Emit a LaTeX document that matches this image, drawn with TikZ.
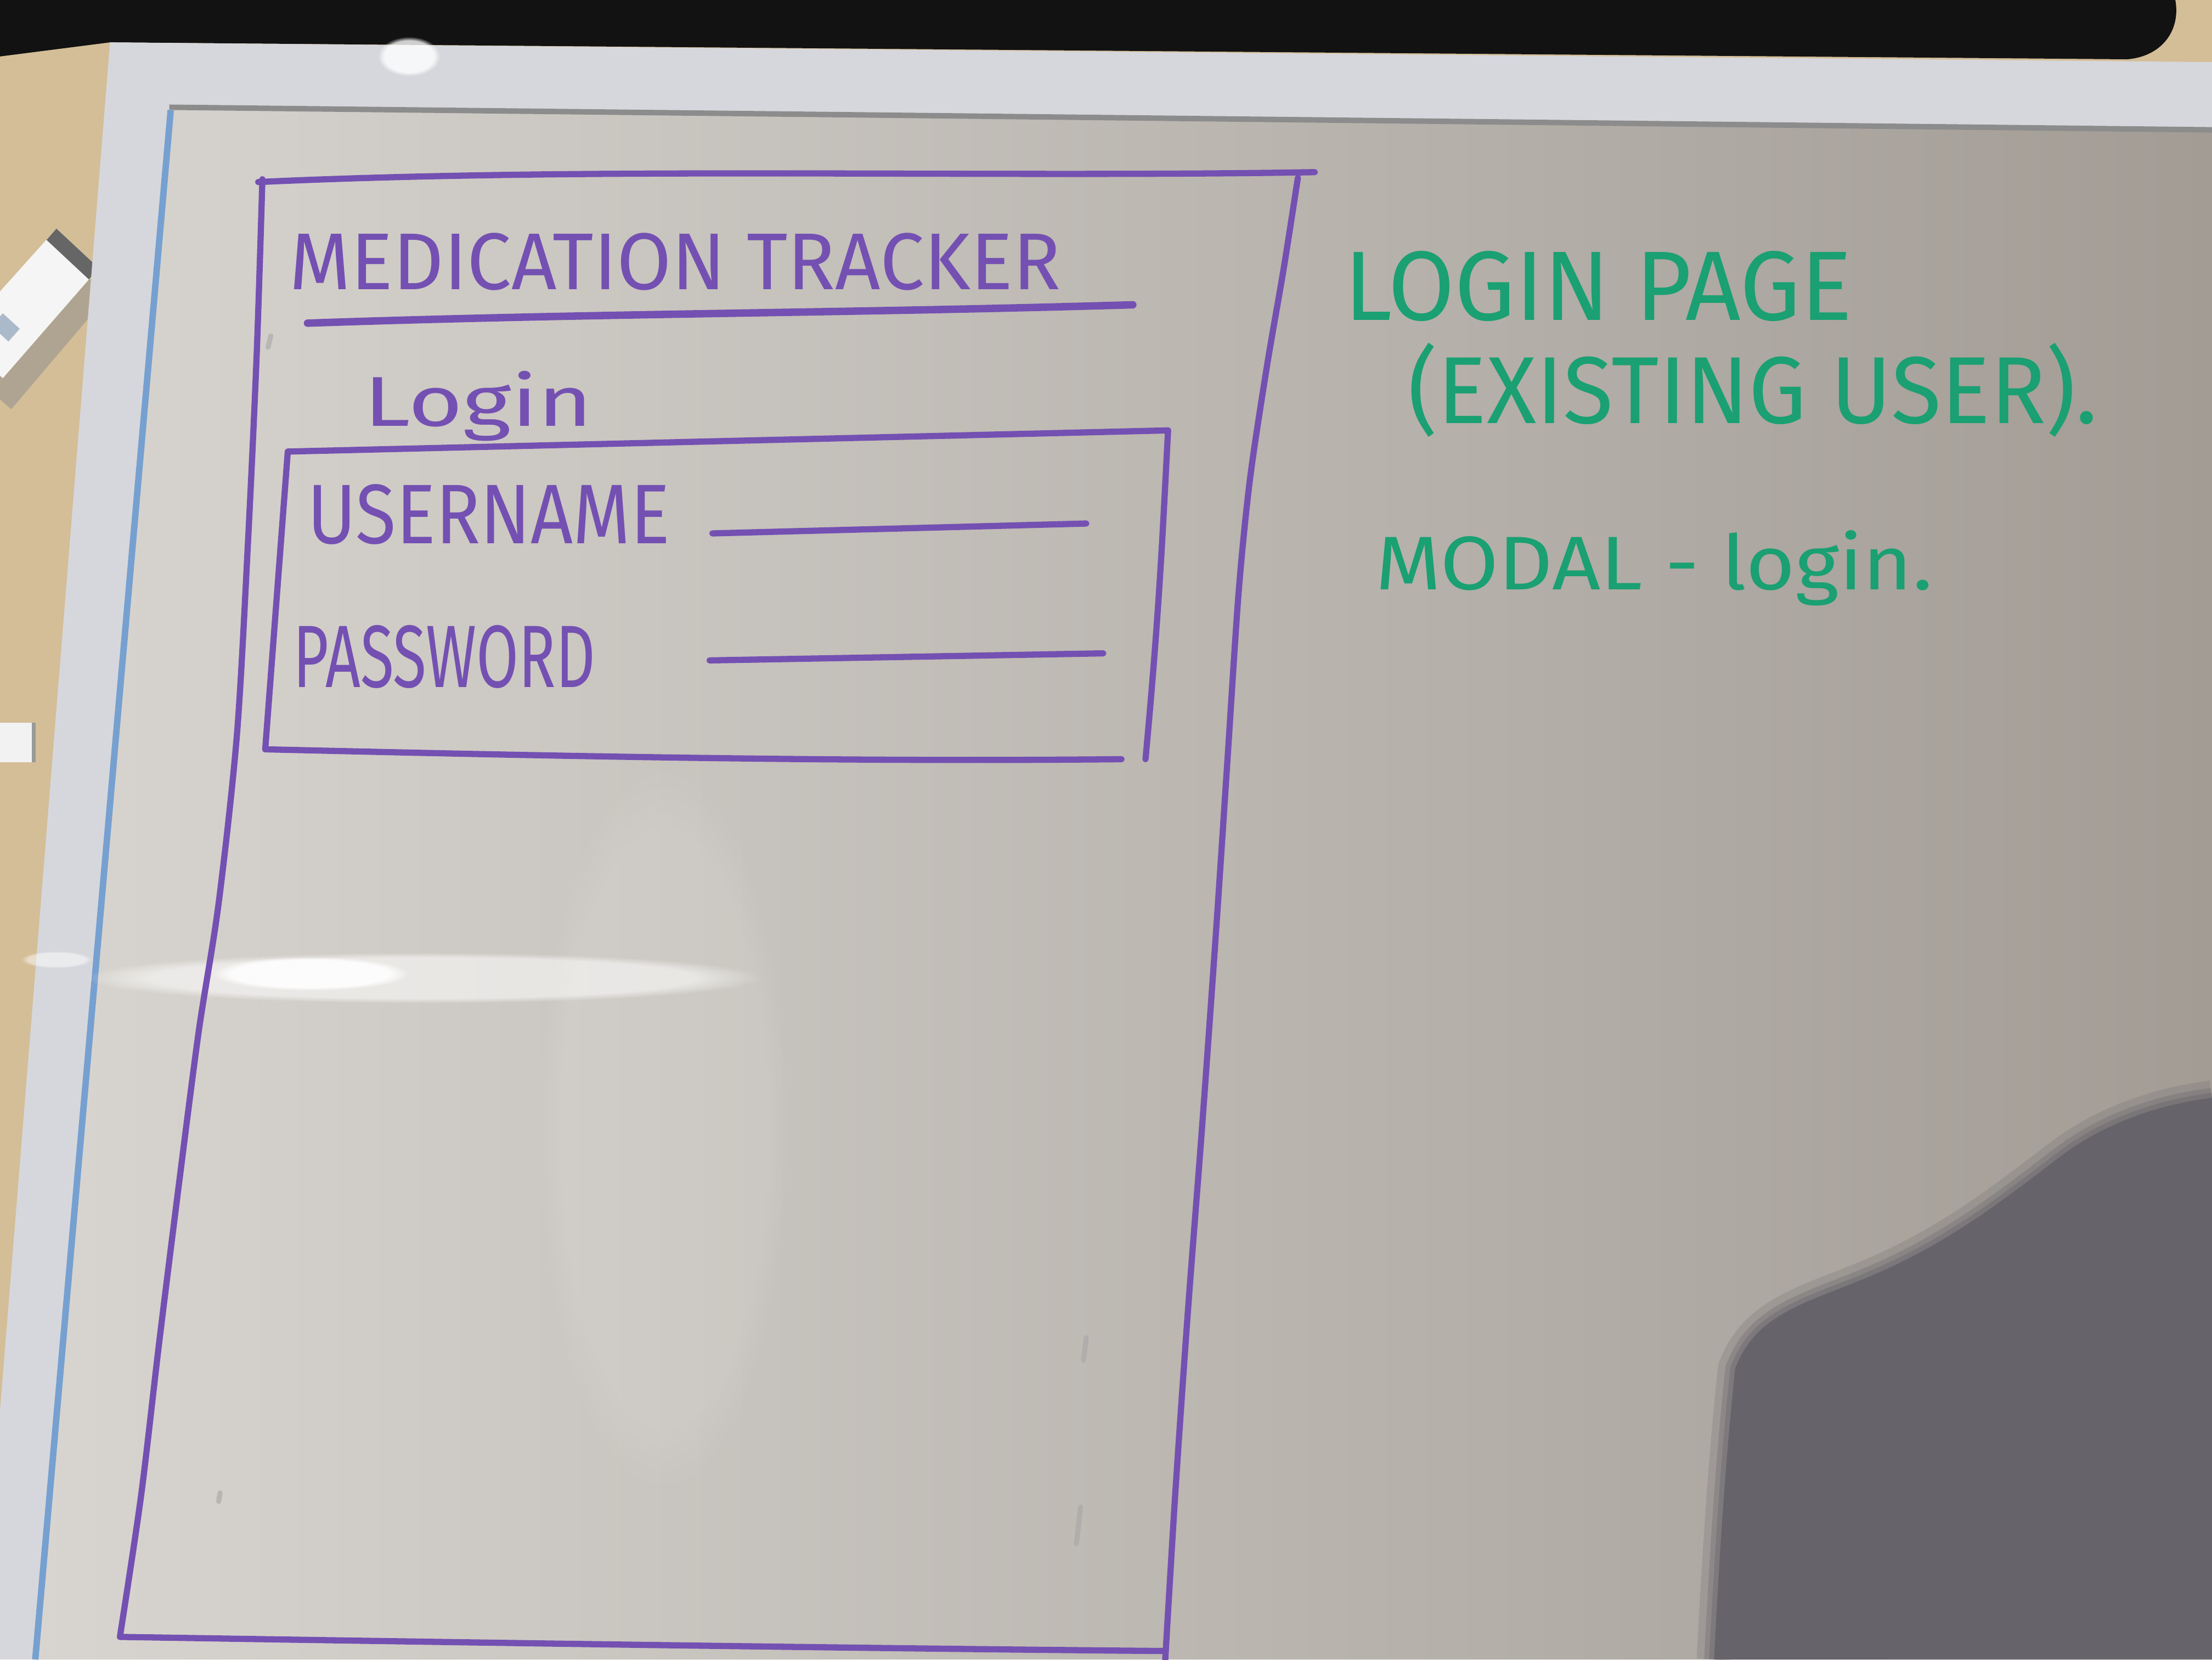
\documentclass[tikz,border=0pt]{standalone}
\usepackage{fontspec}
\setmainfont{Fira Sans}
\usetikzlibrary{fadings}
\definecolor{pen}{RGB}{116,80,178}
\definecolor{ink}{RGB}{26,160,114}
\definecolor{boardL}{RGB}{216,213,208}
\definecolor{boardR}{RGB}{162,156,149}
\definecolor{rim}{RGB}{214,215,220}
\definecolor{wood}{RGB}{212,190,152}
\definecolor{dusk}{RGB}{102,99,106}
\definecolor{edgeblue}{RGB}{118,160,208}

\begin{document}
\begin{tikzpicture}[x=0.1mm,y=-0.1mm,
  penline/.style={draw=pen,line width=1.25pt,line cap=round,line join=round},
  pentext/.style={text=pen,inner sep=0pt,outer sep=0pt,anchor=base west},
  inktext/.style={text=ink,inner sep=0pt,outer sep=0pt,anchor=base west},
  ghost/.style={draw=gray!70,line width=1pt,line cap=round,opacity=0.6},
]
\useasboundingbox (0,0) rectangle (1568,1176);

% table top and the dark wall above the board
\fill[wood] (0,0) rectangle (1568,1176);
\fill[black!93] (0,0) -- (1542,0) .. controls (1546,22) and (1532,40) .. (1508,42)
   -- (78,30) -- (0,40) -- cycle;

% marker lying on the table
\begin{scope}
  \clip (0,0) -- (78,30) -- (68,400) -- (0,400) -- cycle;
  \fill[black!45,opacity=0.5] (46,180) -- (76,210) -- (8,290) -- (-24,262) -- cycle;
  \fill[white!92!gray] (40,162) -- (70,190) -- (2,268) -- (-30,240) -- cycle;
  \fill[black!60] (40,162) -- (70,190) -- (63,198) -- (33,170) -- cycle;
  \fill[gray!40!edgeblue,opacity=0.6] (2,222) -- (14,233) -- (6,242) -- (-6,231) -- cycle;
\end{scope}
% scrap of paper on the table
\fill[white!90!gray] (0,512) rectangle (24,540);
\draw[black!40,line width=0.8pt] (24,512) -- (24,540);

% board frame
\fill[rim] (78,30) -- (1568,44) -- (1568,1176) -- (0,1176) -- (0,1000) -- cycle;
\fill[white,opacity=0.8,path fading=circle with fuzzy edge 20 percent] (290,40) ellipse (22 and 14);

% writing surface
\shade[left color=boardL, right color=boardR]
  (122,76) -- (1568,92) -- (1568,1176) -- (26,1176) -- cycle;
\draw[black!45,line width=1.1pt] (120,76) -- (1568,92);
\draw[edgeblue,line width=1.3pt] (121,78) -- (25,1176);

% glare on the glossy surface
\fill[white,opacity=0.1,path fading=circle with fuzzy edge 20 percent] (470,800) ellipse (90 and 260);
\fill[white,opacity=0.55,path fading=circle with fuzzy edge 20 percent] (300,693) ellipse (240 and 18);
\fill[white,opacity=0.9,path fading=circle with fuzzy edge 20 percent] (220,690) ellipse (70 and 12);
\fill[white,opacity=0.5,path fading=circle with fuzzy edge 20 percent] (40,680) ellipse (25 and 6);

% shadow falling on the lower right, with a soft rim
\def\shadowedge{(1568,778) .. controls (1528,783) and (1490,797) .. (1460,820)
   .. controls (1418,852) and (1380,882) .. (1322,906)
   .. controls (1278,924) and (1244,932) .. (1230,970)
   .. controls (1222,1045) and (1218,1120) .. (1215,1176)}
\fill[dusk] \shadowedge -- (1568,1176) -- cycle;
\draw[dusk,opacity=0.22,line width=7pt] \shadowedge;
\draw[dusk,opacity=0.3,line width=4pt] \shadowedge;
\draw[dusk,opacity=0.4,line width=2pt] \shadowedge;

% faint leftover marks
\draw[ghost] (192,238) -- (190,246);
\draw[ghost] (770,948) -- (768,964);
\draw[ghost] (766,1068) -- (763,1094);
\draw[ghost] (156,1058) -- (155,1064);

% ---- phone screen sketch ----
\coordinate (tl) at (183,129);
\coordinate (tr) at (932,122);
\coordinate (bl) at (85,1160);
\coordinate (br) at (824,1170);
\draw[penline] (tl) .. controls (420,118) and (700,126) .. (tr);
\draw[penline] plot[smooth] coordinates {(186,127) (182,250) (176,380) (168,520)
   (155,640) (141,730) (128,830) (113,950) (100,1060) (bl)};
\draw[penline] (bl) .. controls (330,1164) and (600,1168) .. (br);
\draw[penline] plot[smooth] coordinates {(920,126) (910,190) (898,260) (886,340)
   (878,420) (870,540) (862,660) (852,800) (842,930) (833,1060) (826,1176)};

% header
\node[pentext] (title) at (205,205) {\resizebox{54.7mm}{4.0mm}{MEDICATION TRACKER}};
\coordinate (ul1) at (218,229);
\coordinate (ul2) at (803,216);
\draw[penline,line width=1.5pt] (ul1) .. controls (420,222) and (600,222) .. (ul2);

\node[pentext] (login) at (258,302) {\resizebox{16.2mm}{3.9mm}{Login}};

% form panel
\coordinate (ftl) at (204,320);
\coordinate (ftr) at (828,305);
\coordinate (fbl) at (188,531);
\coordinate (fbr) at (812,538);
\draw[penline] (ftl) -- (ftr);
\draw[penline] (ftl) -- (fbl);
\draw[penline] (fbl) .. controls (400,536) and (600,540) .. (795,538);
\draw[penline] (ftr) .. controls (824,380) and (822,430) .. (fbr);

\node[pentext] (user) at (218,385) {\resizebox{25.7mm}{4.2mm}{USERNAME}};
\coordinate (u1) at (505,378);
\coordinate (u2) at (770,371);
\draw[penline] (u1) -- (u2);

\node[pentext] (pass) at (208,487) {\resizebox{21.4mm}{4.4mm}{PASSWORD}};
\coordinate (p1) at (503,468);
\coordinate (p2) at (782,463);
\draw[penline] (p1) -- (p2);

% ---- notes in green ----
\node[inktext] (page) at (953,227) {\resizebox{36.0mm}{4.9mm}{LOGIN PAGE}};
\node[inktext] (who) at (998,300) {\resizebox{48.9mm}{5.7mm}{(EXISTING USER).}};
\node[inktext] (mode) at (975,418) {\resizebox{39.5mm}{4.2mm}{MODAL - login.}};
\end{tikzpicture}
\end{document}
